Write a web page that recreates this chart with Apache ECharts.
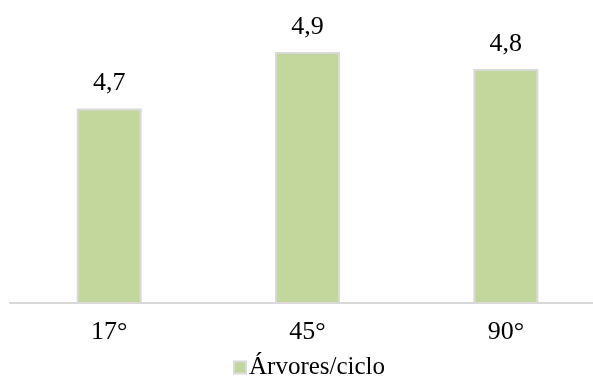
<!DOCTYPE html>
<html>
<head>
<meta charset="utf-8">
<script src="https://cdn.jsdelivr.net/npm/echarts@6/dist/echarts.min.js"></script>
<style>html,body{margin:0;padding:0;background:#fff;overflow:hidden;width:593px;height:379px;}#c{width:606px;height:379px;}</style>
</head>
<body>
<div id="c"></div>
<script>
var categories = ['17°', '45°', '90°'];
var seriesName = 'Árvores/ciclo';
var values = [4.69, 4.89, 4.83];

var chart = echarts.init(document.getElementById('c'), null, {renderer: 'canvas'});
var font = 'Liberation Serif';
chart.setOption({
  animation: false,
  backgroundColor: '#ffffff',
  textStyle: {fontFamily: font},
  grid: {left: 10, width: 595, top: 21, bottom: 76, containLabel: false},
  legend: {
    data: [seriesName],
    left: 228, top: 350,
    itemWidth: 12, itemHeight: 12, itemGap: 10,
    icon: 'rect',
    textStyle: {fontFamily: font, fontSize: 25, color: '#000', padding: [0, 0, 0, -2]}
  },
  xAxis: {
    type: 'category',
    data: categories,
    axisLine: {lineStyle: {color: '#d9d9d9', width: 2}},
    axisTick: {show: false},
    axisLabel: {fontFamily: font, fontSize: 26, color: '#000', margin: 16}
  },
  yAxis: {
    type: 'value', min: 4, max: 5,
    show: false,
    splitLine: {show: false}
  },
  series: [{
    name: seriesName,
    type: 'bar',
    data: values,
    barWidth: 65,
    itemStyle: {color: '#c3d69b', borderColor: '#d9d9d9', borderWidth: 2},
    label: {
      show: true, position: 'top', distance: 12,
      fontFamily: font, fontSize: 26, color: '#000',
      formatter: function (p) { return p.value.toFixed(1).replace('.', ','); }
    }
  }]
});
</script>
</body>
</html>
